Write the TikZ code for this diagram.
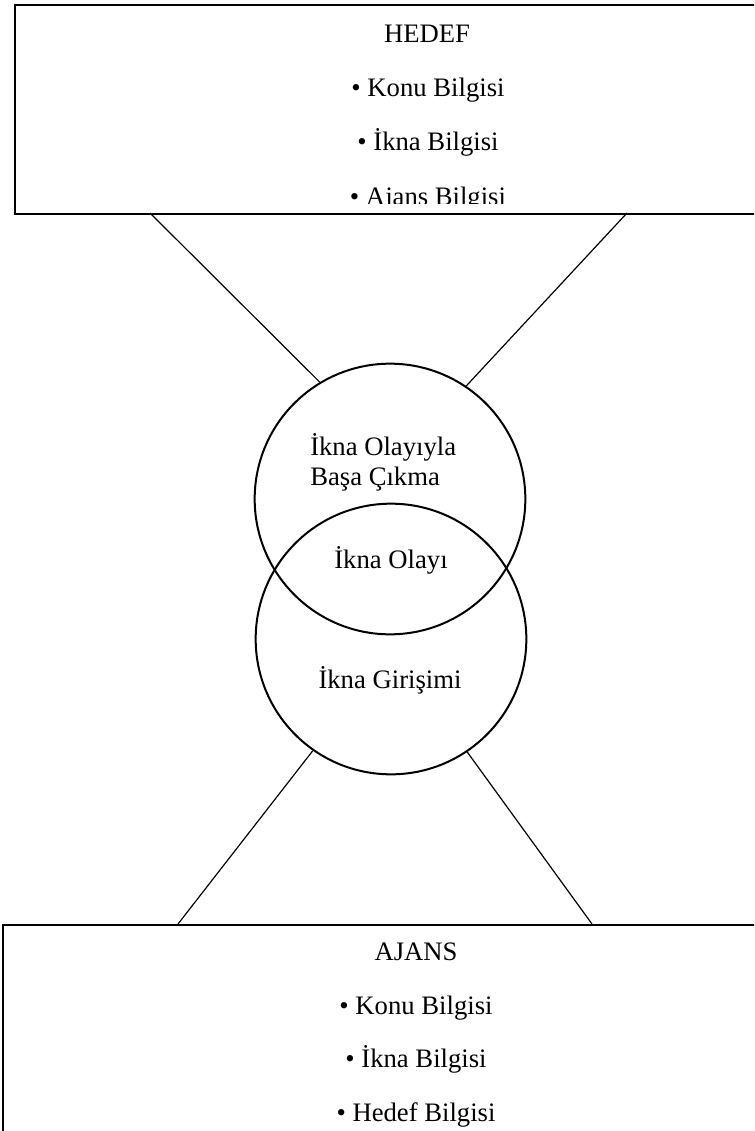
\documentclass[tikz,border=0pt]{standalone}
\usepackage{fontspec}
\setmainfont{Liberation Serif}
\begin{document}
\begin{tikzpicture}[x=0.75pt,y=-0.75pt,
  lbl/.style={font=\fontsize{20}{24}\selectfont, inner sep=0pt},
  frame/.style={draw, line width=1.4pt, inner sep=0pt},
  ring/.style={circle, draw, line width=1.5pt, minimum size=203pt, inner sep=0pt},
  conn/.style={line width=0.9pt}]
\useasboundingbox (0,0) rectangle (754,1131);
\clip (0,0) rectangle (754,1131);
% boxes
\node[frame, anchor=north west, minimum width=570pt, minimum height=156.75pt] (hedef) at (14,4) {};
\node[frame, anchor=north west, minimum width=580pt, minimum height=200pt] (ajans) at (2,924) {};
% circles
\node[ring] (c1) at (390,499) {};
\node[ring] (c2) at (391,639) {};
% connector ends on boxes
\coordinate (h1) at (150,213);
\coordinate (h2) at (627,213);
\coordinate (a1) at (178,924);
\coordinate (a2) at (592,924);
\draw[conn] (h1) -- (c1.121.5);
\draw[conn] (h2) -- (c1.56);
\draw[conn] (c2.235.6) -- (a1);
\draw[conn] (c2.304.7) -- (a2);
% top box text
\begin{scope}
\clip (14,4) rectangle (754,203.5);
\node[lbl, anchor=base] (t0) at (427,43) {HEDEF};
\node[lbl, anchor=base] (t1) at (428,97) {• Konu Bilgisi};
\node[lbl, anchor=base] (t2) at (428,150) {• İkna Bilgisi};
\node[lbl, anchor=base] (t3) at (428,205) {• Ajans Bilgisi};
\end{scope}
% bottom box text
\node[lbl, anchor=base] (b0) at (416,960) {AJANS};
\node[lbl, anchor=base] (b1) at (416,1014) {• Konu Bilgisi};
\node[lbl, anchor=base] (b2) at (416,1067) {• İkna Bilgisi};
\node[lbl, anchor=base] (b3) at (416,1121) {• Hedef Bilgisi};
% circle texts
\node[lbl, anchor=base west] (k1) at (310,455) {İkna Olayıyla};
\node[lbl, anchor=base west] (k2) at (310,485) {Başa Çıkma};
\node[lbl, anchor=base] (k3) at (391,568) {İkna Olayı};
\node[lbl, anchor=base] (k4) at (390,688) {İkna Girişimi};
\end{tikzpicture}
\end{document}
